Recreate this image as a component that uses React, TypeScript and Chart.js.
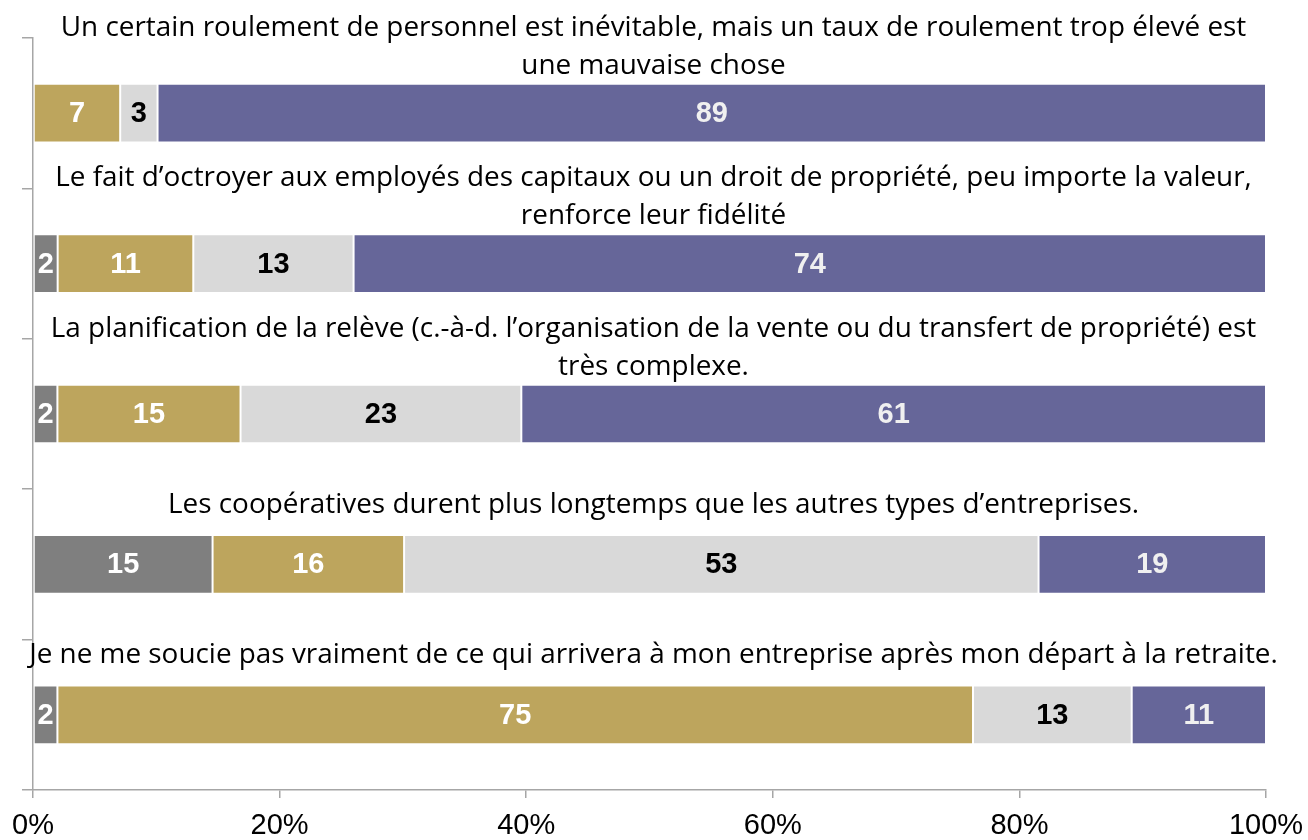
import React, { useEffect, useRef } from "react";
import { Chart, registerables } from "chart.js";

Chart.register(...registerables);

const categories: string[][] = [
  ["Un certain roulement de personnel est inévitable, mais un taux de roulement trop élevé est", "une mauvaise chose"],
  ["Le fait d’octroyer aux employés des capitaux ou un droit de propriété, peu importe la valeur,", "renforce leur fidélité"],
  ["La planification de la relève (c.-à-d. l’organisation de la vente ou du transfert de propriété) est", "très complexe."],
  ["Les coopératives durent plus longtemps que les autres types d’entreprises."],
  ["Je ne me soucie pas vraiment de ce qui arrivera à mon entreprise après mon départ à la retraite."],
];

const seriesNames = ["Ne sait pas", "En désaccord", "Neutre", "D’accord"];
const seriesNeSaitPas = [0, 2, 2, 15, 2];
const seriesDesaccord = [7, 11, 15, 16, 75];
const seriesNeutre = [3, 13, 23, 53, 13];
const seriesAccord = [89, 74, 61, 19, 11];

const xTicks = [0, 20, 40, 60, 80, 100];

const seriesColors = ["#7F7F7F", "#BDA55D", "#D9D9D9", "#666699"];
const labelColors = ["#FFFFFF", "#FFFFFF", "#000000", "#F0F0F0"];

const CAT_FONT = '27.9px "Open Sans"';
const VAL_FONT = 'bold 29px "Liberation Sans"';
const BAR_PCT = 0.39;

export default function App() {
  const ref = useRef<HTMLCanvasElement | null>(null);

  useEffect(() => {
    if (!ref.current) return;
    const raw = [seriesNeSaitPas, seriesDesaccord, seriesNeutre, seriesAccord];
    const sums = categories.map((_, i) => raw.reduce((s, arr) => s + arr[i], 0));

    const catLabelPlugin = {
      id: "catLabels",
      afterDraw(chart: any) {
        const ctx = chart.ctx;
        const y = chart.scales.y;
        const band = Math.abs(y.getPixelForValue(1) - y.getPixelForValue(0));
        const cx = (chart.chartArea.left + chart.chartArea.right) / 2 + 4;
        ctx.save();
        ctx.font = CAT_FONT;
        ctx.fillStyle = "#000000";
        ctx.textAlign = "center";
        ctx.textBaseline = "middle";
        categories.forEach((lines, i) => {
          const barTop = y.getPixelForValue(i) - (band * BAR_PCT) / 2;
          if (lines.length === 2) {
            ctx.fillText(lines[0], cx, barTop - 56);
            ctx.fillText(lines[1], cx, barTop - 18);
          } else {
            ctx.fillText(lines[0], cx, barTop - 30);
          }
        });
        ctx.restore();
      },
    };

    const valueLabelPlugin = {
      id: "valueLabels",
      afterDatasetsDraw(chart: any) {
        const ctx = chart.ctx;
        ctx.save();
        ctx.font = VAL_FONT;
        ctx.textAlign = "center";
        ctx.textBaseline = "middle";
        chart.data.datasets.forEach((ds: any, di: number) => {
          const meta = chart.getDatasetMeta(di);
          meta.data.forEach((el: any, i: number) => {
            const v = raw[di][i];
            if (!v) return;
            ctx.fillStyle = labelColors[di];
            ctx.fillText(String(v), (el.x + el.base) / 2, el.y + 1);
          });
        });
        ctx.restore();
      },
    };

    const chart = new Chart(ref.current, {
      type: "bar",
      data: {
        labels: categories.map((c) => c.join(" ")),
        datasets: raw.map((arr, di) => ({
          label: seriesNames[di],
          data: arr.map((v, i) => (v / sums[i]) * 100),
          backgroundColor: seriesColors[di],
          borderColor: "rgba(255,255,255,0.45)",
          borderWidth: 1,
          borderSkipped: false,
          barPercentage: BAR_PCT,
          categoryPercentage: 1,
        })),
      },
      options: {
        indexAxis: "y",
        responsive: false,
        animation: false,
        layout: { padding: { top: 38, left: 22, right: 42, bottom: 0 } },
        plugins: {
          legend: { display: false },
          tooltip: { enabled: false },
        },
        scales: {
          x: {
            stacked: true,
            min: 0,
            max: 100,
            afterBuildTicks: (scale: any) => {
              scale.ticks = xTicks.map((v) => ({ value: v }));
            },
            afterFit: (scale: any) => {
              scale.height = 50;
              scale.paddingLeft = 0;
              scale.paddingRight = 0;
            },
            grid: {
              drawOnChartArea: false,
              drawTicks: true,
              tickLength: 8,
              color: "#A6A6A6",
              lineWidth: 1.5,
            },
            border: { color: "#A6A6A6", width: 1.5 },
            ticks: {
              padding: 11,
              color: "#000000",
              font: { family: "Liberation Sans", size: 29 },
              callback: (v: any) => v + "%",
              maxRotation: 0,
            },
          },
          y: {
            stacked: true,
            afterFit: (scale: any) => {
              scale.width = 11;
            },
            grid: {
              offset: true,
              drawOnChartArea: false,
              drawTicks: true,
              tickLength: 11,
              color: "#A6A6A6",
              lineWidth: 1.5,
            },
            border: { color: "#A6A6A6", width: 1.5 },
            ticks: { display: false },
          },
        },
      },
      plugins: [catLabelPlugin, valueLabelPlugin],
    });
    return () => chart.destroy();
  }, []);

  return (
    <div style={{ position: "fixed", left: 0, top: 0, width: 1308, height: 840, background: "#FFFFFF" }}>
      <canvas ref={ref} width={1308} height={840} />
    </div>
  );
}
